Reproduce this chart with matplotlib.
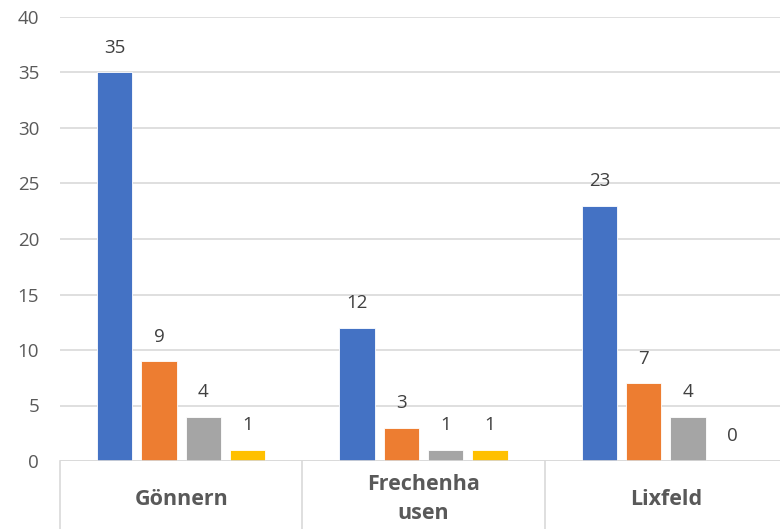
import matplotlib.pyplot as plt
import numpy as np

plt.rcParams['font.family'] = ['Open Sans', 'DejaVu Sans']

categories = ['Gönnern', 'Frechenha\nusen', 'Lixfeld']
series1 = [35, 12, 23]
series2 = [9, 3, 7]
series3 = [4, 1, 4]
series4 = [1, 1, 0]
colors = ['#4472C4', '#ED7D31', '#A5A5A5', '#FFC000']
yticks = [0, 5, 10, 15, 20, 25, 30, 35, 40]

fig = plt.figure(figsize=(7.8, 5.29), dpi=100)
ax = fig.add_axes([60 / 780, 68 / 529, 727 / 780, 444 / 529])

x = np.arange(len(categories))
w = 0.145
step = 0.183
for i, (vals, c) in enumerate(zip([series1, series2, series3, series4], colors)):
    pos = x + (i - 1.5) * step
    ax.bar(pos, vals, width=w, color=c, edgecolor='white', linewidth=0.6, zorder=3)
    for p, v in zip(pos, vals):
        ax.text(p, v + 1.4, str(v), ha='center', va='bottom', fontsize=13.5,
                color='#404040')

ax.set_xlim(-0.5, 2.5)
ax.set_ylim(0, 40)
ax.set_yticks(yticks)
ax.tick_params(axis='y', length=0, labelsize=13.5, labelcolor='#595959', pad=15)
ax.set_xticks([])
ax.yaxis.grid(True, color='#D9D9D9', linewidth=1.2, zorder=0)
for s in ax.spines.values():
    s.set_visible(False)
ax.axhline(0, color='#D9D9D9', linewidth=1.2, zorder=4)

# category separators below the axis
trans = ax.get_xaxis_transform()
for xs in [-0.5, 0.5, 1.5, 2.5]:
    ax.plot([xs, xs], [0, -0.16], transform=trans, color='#D9D9D9',
            linewidth=1.2, clip_on=False)
for xi, lab in zip(x, categories):
    ax.text(xi, -0.086, lab, transform=trans, ha='center', va='center',
            fontsize=15.5, fontweight='bold', color='#595959', linespacing=1.5)

fig.savefig('out.png', dpi=100)
